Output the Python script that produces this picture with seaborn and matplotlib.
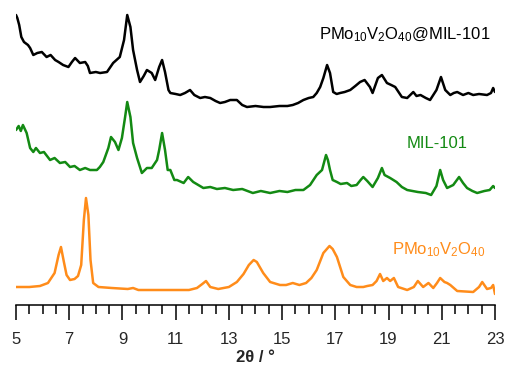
import numpy as np
import pandas as pd
import matplotlib
matplotlib.use("Agg")
import matplotlib.pyplot as plt
from matplotlib.ticker import MultipleLocator, FixedLocator
import seaborn as sns

# ---------------- data ----------------
x_pmo = [5.0, 5.5, 5.9, 6.2, 6.45, 6.6, 6.69, 6.8, 6.9, 7.03, 7.2, 7.33, 7.45, 7.55, 7.63, 7.72, 7.8, 7.9,
         8.1, 8.6, 9.2, 9.4, 9.6, 10.5, 11.5, 11.8, 12.0, 12.14, 12.3, 12.6, 13.0, 13.3, 13.55, 13.75, 13.93,
         14.05, 14.29, 14.55, 14.92, 15.15, 15.4, 15.65, 15.9, 16.1, 16.3, 16.55, 16.78, 16.9, 17.06, 17.3,
         17.56, 17.8, 18.05, 18.2, 18.4, 18.55, 18.68, 18.8, 18.94, 19.06, 19.2, 19.36, 19.7, 19.95, 20.1,
         20.3, 20.5, 20.68, 20.82, 20.94, 21.1, 21.2, 21.32, 21.58, 22.18, 22.4, 22.52, 22.7, 22.85, 22.93, 23.0]
y_pmo = [3, 3, 4, 7, 17, 35, 43, 28, 15, 10, 11, 14, 25, 70, 92, 75, 30, 7,
         3, 2, 1, 2, 0, 0, 0, 2, 6, 9, 3, 1, 3, 8, 16, 25, 30,
         28, 17, 8, 5, 5, 7, 5, 7, 12, 20, 37, 44, 41, 33, 13,
         5, 3, 3, 4, 5, 9, 16, 9, 12, 9, 12, 3, 0, 3, 9,
         3, 7, 2, 7, 12, 8, 7, 5, -1, -2, 3, 8, 1, 2, 5, -4]

x_mil = [5.0, 5.1, 5.18, 5.26, 5.4, 5.53, 5.65, 5.75, 5.9, 6.05, 6.28, 6.45, 6.65, 6.85, 7.03, 7.2, 7.4, 7.6,
         7.78, 8.04, 8.15, 8.28, 8.47, 8.57, 8.72, 8.85, 8.98, 9.1, 9.18, 9.3, 9.4, 9.55, 9.73, 9.92, 10.1,
         10.3, 10.38, 10.49, 10.6, 10.7, 10.8, 10.95, 11.05, 11.3, 11.47, 11.66, 11.85, 12.04, 12.3, 12.55,
         12.85, 13.16, 13.5, 13.9, 14.2, 14.55, 14.9, 15.2, 15.5, 15.8, 16.05, 16.3, 16.5, 16.58, 16.65,
         16.72, 16.8, 16.9, 17.06, 17.2, 17.44, 17.6, 17.8, 17.95, 18.05, 18.2, 18.4, 18.6, 18.75, 18.85,
         19.06, 19.3, 19.5, 19.7, 20.1, 20.4, 20.6, 20.8, 20.94, 21.05, 21.2, 21.43, 21.65, 21.8, 21.95,
         22.15, 22.33, 22.6, 22.8, 22.93, 23.0]
y_mil = [60, 64, 59, 65, 57, 42, 38, 42, 37, 38, 30, 32, 27, 28, 23, 24, 20, 22,
         20, 20, 23, 28, 42, 53, 48, 40, 52, 73, 88, 73, 47, 32, 17, 22, 22,
         30, 40, 57, 40, 20, 20, 10, 10, 7, 13, 8, 5, 2, 3, 1,
         2, 0, 1, -3, -1, -3, -1, -2, 0, 0, 5, 15, 20, 28, 35,
         30, 20, 10, 8, 6, 7, 4, 5, 10, 13, 9, 3, 12, 22, 15,
         12, 8, 3, 0, -2, -3, -5, 4, 20, 10, 2, 5, 13, 7, 2,
         -1, -3, -1, 0, 4, 2]

x_comp = [5.0, 5.05, 5.12, 5.2, 5.3, 5.45, 5.53, 5.65, 5.8, 5.97, 6.15, 6.3, 6.47, 6.6, 6.77, 6.97, 7.1, 7.22,
          7.4, 7.6, 7.7, 7.78, 8.0, 8.16, 8.42, 8.65, 8.9, 9.06, 9.18, 9.3, 9.4, 9.55, 9.66, 9.8, 9.92, 10.1,
          10.23, 10.38, 10.49, 10.6, 10.73, 10.8, 11.0, 11.17, 11.35, 11.54, 11.7, 11.92, 12.1, 12.3, 12.5,
          12.67, 12.85, 13.05, 13.3, 13.5, 13.68, 14.0, 14.3, 14.55, 14.9, 15.2, 15.4, 15.6, 15.8, 16.0,
          16.17, 16.3, 16.43, 16.55, 16.69, 16.8, 16.92, 17.05, 17.18, 17.35, 17.56, 17.75, 17.93, 18.1,
          18.3, 18.4, 18.6, 18.75, 18.94, 19.1, 19.25, 19.5, 19.7, 19.93, 20.05, 20.2, 20.4, 20.56, 20.8,
          20.97, 21.13, 21.32, 21.45, 21.58, 21.8, 22.0, 22.18, 22.4, 22.7, 22.85, 22.93, 23.0]
y_comp = [85, 82, 75, 63, 58, 55, 52, 45, 47, 48, 43, 45, 40, 38, 35, 33, 38, 42,
          37, 38, 34, 27, 28, 27, 28, 37, 43, 60, 85, 73, 50, 30, 18, 24, 30, 27,
          20, 33, 40, 28, 10, 7, 6, 5, 7, 10, 5, 2, 3, 2, -1,
          -3, -2, 0, 0, -5, -7, -6, -7, -7, -6, -6, -5, -3, 0, 2,
          3, 7, 13, 22, 35, 27, 8, 6, 7, 8, 10, 14, 18, 20,
          13, 7, 22, 25, 17, 15, 13, 3, 2, 8, 4, 5, 2, 0, 10,
          23, 10, 5, 7, 8, 5, 7, 5, 6, 5, 7, 12, 8]

tick_values = [5, 7, 9, 11, 13, 15, 17, 19, 21, 23]

names = ["PMo$_{10}$V$_2$O$_{40}$", "MIL-101", "PMo$_{10}$V$_2$O$_{40}$@MIL-101"]
colors = ["#ff8c1a", "#138a13", "#000000"]
offsets = [15, 115, 205]

sns.set_style("ticks")
plt.rcParams["font.family"] = ["Liberation Sans", "DejaVu Sans"]
plt.rcParams["mathtext.default"] = "regular"

frames = []
for nm, xs, ys, off in zip(names, [x_pmo, x_mil, x_comp], [y_pmo, y_mil, y_comp], offsets):
    frames.append(pd.DataFrame({"two_theta": xs, "intensity": np.array(ys) + off, "sample": nm}))
df = pd.concat(frames, ignore_index=True)

fig = plt.figure(figsize=(5.06, 3.70), dpi=100)
ax = fig.add_axes([16 / 506, 65 / 370, 479 / 506, 295 / 370])
sns.lineplot(data=df, x="two_theta", y="intensity", hue="sample", palette=dict(zip(names, colors)),
             linewidth=1.8, legend=False, ax=ax, estimator=None, sort=False)

ax.set_xlim(5, 23)
ax.set_ylim(0, 295)
ax.xaxis.set_major_locator(FixedLocator(tick_values))
ax.xaxis.set_minor_locator(MultipleLocator(0.5))
ax.set_xticklabels([str(v) for v in tick_values])
ax.tick_params(axis="x", which="major", length=10.5, width=1.1, labelsize=12, pad=9, color="black")
ax.tick_params(axis="x", which="minor", length=6.3, width=1.1, color="black")
ax.set_yticks([])
for s in ["left", "top", "right"]:
    ax.spines[s].set_visible(False)
ax.spines["bottom"].set_linewidth(1.1)
ax.spines["bottom"].set_color("black")
ax.set_xlabel("2θ / °", fontsize=12, fontweight="bold", labelpad=2)
ax.set_ylabel("")

ax.text(22.82, 270, names[2], ha="right", va="center", fontsize=12, color=colors[2])
ax.text(20.83, 162, names[1], ha="center", va="center", fontsize=12, color=colors[1])
ax.text(22.63, 55, names[0], ha="right", va="center", fontsize=12, color=colors[0])

fig.savefig("out.png", dpi=100)
